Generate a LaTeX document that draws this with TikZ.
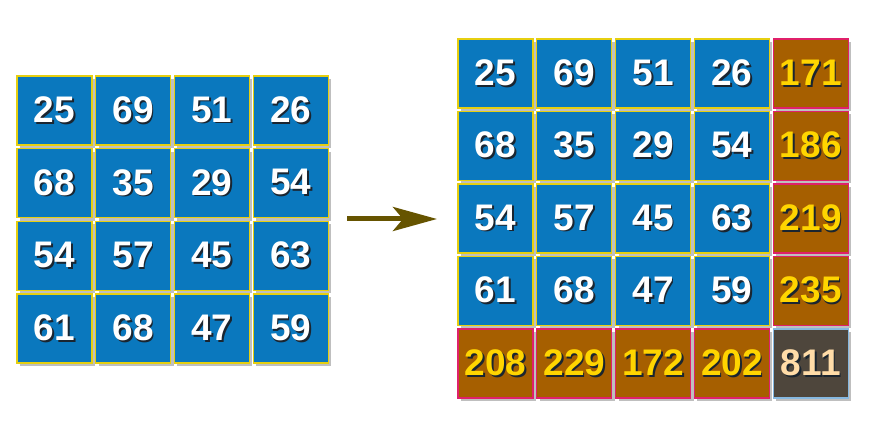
\documentclass[tikz,border=0pt]{standalone}
\usepackage{fontspec}
\setmainfont{Liberation Sans}
\usetikzlibrary{arrows.meta,shadows}
\definecolor{cellblue}{HTML}{0A78BE}
\definecolor{cellbrown}{HTML}{A65F00}
\definecolor{celldark}{HTML}{4E463C}
\definecolor{lineyellow}{HTML}{E6CF10}
\definecolor{linered}{HTML}{E0206A}
\definecolor{lineblue}{HTML}{86B8E0}
\definecolor{textgold}{HTML}{FFD500}
\definecolor{textwheat}{HTML}{FFDCA8}
\definecolor{arrowolive}{HTML}{665400}
\definecolor{textshade}{HTML}{1A2530}
\newcommand{\shnum}[1]{\rlap{\kern1.8pt\raisebox{-1.8pt}{\textcolor{textshade}{#1}}}#1}

\begin{document}
\begin{tikzpicture}[x=1pt, y=-1pt, font=\fontsize{37}{40}\selectfont\bfseries]
    \tikzset{
      cell/.style={draw=lineyellow, fill=cellblue, text=white, line width=1.2pt,
        minimum width=75pt, minimum height=69pt, inner sep=0pt,
        drop shadow={shadow xshift=3pt, shadow yshift=-3pt, opacity=0.5}},
      sum/.style={cell, draw=linered, fill=cellbrown, text=textgold},
      total/.style={cell, draw=lineblue, fill=celldark, text=textwheat}
    }
    \useasboundingbox (0,0) rectangle (886,427);

    % matrix
    \node[cell] (a11) at (54.5,110.5) {\shnum{25}};
    \node[cell] (a12) at (133.2,110.5) {\shnum{69}};
    \node[cell] (a13) at (211.9,110.5) {\shnum{51}};
    \node[cell] (a14) at (290.6,110.5) {\shnum{26}};
    \node[cell] (a21) at (54.5,183.2) {\shnum{68}};
    \node[cell] (a22) at (133.2,183.2) {\shnum{35}};
    \node[cell] (a23) at (211.9,183.2) {\shnum{29}};
    \node[cell] (a24) at (290.6,183.2) {\shnum{54}};
    \node[cell] (a31) at (54.5,255.9) {\shnum{54}};
    \node[cell] (a32) at (133.2,255.9) {\shnum{57}};
    \node[cell] (a33) at (211.9,255.9) {\shnum{45}};
    \node[cell] (a34) at (290.6,255.9) {\shnum{63}};
    \node[cell] (a41) at (54.5,328.6) {\shnum{61}};
    \node[cell] (a42) at (133.2,328.6) {\shnum{68}};
    \node[cell] (a43) at (211.9,328.6) {\shnum{47}};
    \node[cell] (a44) at (290.6,328.6) {\shnum{59}};

    % matrix with sums
    \node[cell] (b11) at (495.5,73.5) {\shnum{25}};
    \node[cell] (b12) at (574.3,73.5) {\shnum{69}};
    \node[cell] (b13) at (653.1,73.5) {\shnum{51}};
    \node[cell] (b14) at (731.9,73.5) {\shnum{26}};
    \node[sum]  (b15) at (810.8,73.5) {\shnum{171}};
    \node[cell] (b21) at (495.5,146) {\shnum{68}};
    \node[cell] (b22) at (574.3,146) {\shnum{35}};
    \node[cell] (b23) at (653.1,146) {\shnum{29}};
    \node[cell] (b24) at (731.9,146) {\shnum{54}};
    \node[sum]  (b25) at (810.8,146) {\shnum{186}};
    \node[cell] (b31) at (495.5,218.5) {\shnum{54}};
    \node[cell] (b32) at (574.3,218.5) {\shnum{57}};
    \node[cell] (b33) at (653.1,218.5) {\shnum{45}};
    \node[cell] (b34) at (731.9,218.5) {\shnum{63}};
    \node[sum]  (b35) at (810.8,218.5) {\shnum{219}};
    \node[cell] (b41) at (495.5,291) {\shnum{61}};
    \node[cell] (b42) at (574.3,291) {\shnum{68}};
    \node[cell] (b43) at (653.1,291) {\shnum{47}};
    \node[cell] (b44) at (731.9,291) {\shnum{59}};
    \node[sum]  (b45) at (810.8,291) {\shnum{235}};
    \node[sum]  (b51) at (495.5,363.5) {\shnum{208}};
    \node[sum]  (b52) at (574.3,363.5) {\shnum{229}};
    \node[sum]  (b53) at (653.1,363.5) {\shnum{172}};
    \node[sum]  (b54) at (731.9,363.5) {\shnum{202}};
    \node[total] (b55) at (810.8,363.5) {\shnum{811}};

    \coordinate (from) at (347,219);
    \coordinate (to) at (437,219);
    \draw[arrowolive, line width=5pt, -{Stealth[length=44pt, width=24pt, inset=10pt]}] (from) -- (to);
\end{tikzpicture}
\end{document}
